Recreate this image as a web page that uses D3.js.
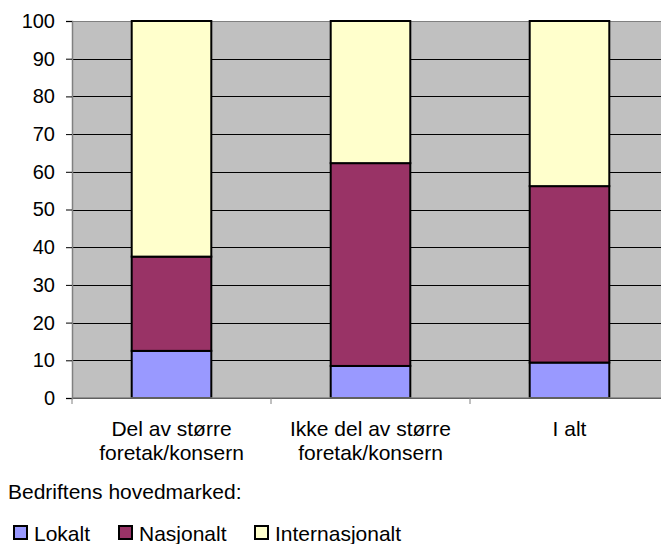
<!DOCTYPE html>
<html>
<head>
<meta charset="utf-8">
<script src="https://cdn.jsdelivr.net/npm/d3@7"></script>
<style>
  body { margin: 0; background: #fff; }
  svg { display: block; font-family: "Liberation Sans", Arial, sans-serif; }
</style>
</head>
<body>
<div id="chart"></div>
<script>
// Data
const categories = [["Del av større", "foretak/konsern"], ["Ikke del av større", "foretak/konsern"], ["I alt"]];
const seriesNames = ["Lokalt", "Nasjonalt", "Internasjonalt"];
const lokalt = [12.5, 8.5, 9.4];
const nasjonalt = [25.0, 53.8, 46.8];
const internasjonalt = [62.5, 37.7, 43.8];
const yTicks = [0, 10, 20, 30, 40, 50, 60, 70, 80, 90, 100];
const colors = ["#9999FF", "#993366", "#FFFFCC"];

const width = 661, height = 544;
const margin = {top: 21, left: 72};
const plotW = 597, plotH = 377;

const svg = d3.select("#chart").append("svg")
    .attr("width", width)
    .attr("height", height);

const g = svg.append("g")
    .attr("transform", `translate(${margin.left}, ${margin.top})`);

// Scales
const x = d3.scaleBand()
    .domain(d3.range(categories.length))
    .range([0, plotW])
    .paddingInner(0.6)
    .paddingOuter(0.3);
const y = d3.scaleLinear().domain([0, 100]).range([plotH, 0]);

// Plot background
g.append("rect")
    .attr("width", plotW)
    .attr("height", plotH)
    .attr("fill", "#C0C0C0");

// Gridlines
g.selectAll(".grid")
    .data(yTicks)
    .join("line")
    .attr("x1", 0)
    .attr("x2", plotW)
    .attr("y1", d => Math.round(y(d)) + 0.5)
    .attr("y2", d => Math.round(y(d)) + 0.5)
    .attr("stroke", d => d === 100 ? "#808080" : "#000")
    .attr("stroke-width", 1);

// Stacked bars
const rows = categories.map((c, i) => ({i, Lokalt: lokalt[i], Nasjonalt: nasjonalt[i], Internasjonalt: internasjonalt[i]}));
const stacked = d3.stack().keys(seriesNames)(rows);

g.selectAll(".series")
    .data(stacked)
    .join("g")
    .attr("fill", (d, i) => colors[i])
    .selectAll("rect")
    .data(d => d)
    .join("rect")
    .attr("x", d => x(d.data.i))
    .attr("y", d => y(d[1]))
    .attr("width", x.bandwidth())
    .attr("height", d => y(d[0]) - y(d[1]))
    .attr("stroke", "#000")
    .attr("stroke-width", 2);

// Y axis
const yAxis = g.append("g")
    .call(d3.axisLeft(y).tickValues(yTicks).tickSize(6).tickPadding(11));
yAxis.select(".domain").attr("stroke", "#808080").attr("stroke-width", 1.5);
yAxis.selectAll(".tick line").attr("stroke", "#000");
yAxis.selectAll("text")
    .attr("font-size", 20)
    .attr("fill", "#000")
    .attr("font-family", "Liberation Sans, Arial, sans-serif");

// X axis baseline and ticks at band boundaries
const step = x.step();
const xBase = g.append("g").attr("transform", `translate(0, ${plotH})`);
xBase.append("line")
    .attr("x1", 0).attr("x2", plotW)
    .attr("stroke", "#808080").attr("stroke-width", 1.5);
xBase.selectAll(".xtick")
    .data(d3.range(categories.length + 1))
    .join("line")
    .attr("x1", d => d * step).attr("x2", d => d * step)
    .attr("y1", 0).attr("y2", 6)
    .attr("stroke", "#808080");

// Category labels
g.selectAll(".cat")
    .data(categories)
    .join("text")
    .attr("x", (d, i) => x(i) + x.bandwidth() / 2)
    .attr("y", plotH + 38)
    .attr("text-anchor", "middle")
    .attr("font-size", 21)
    .selectAll("tspan")
    .data(d => d)
    .join("tspan")
    .attr("x", function() { return this.parentNode.getAttribute("x"); })
    .attr("dy", (d, i) => i === 0 ? 0 : 24)
    .text(d => d);

// Legend
svg.append("text")
    .attr("x", 8)
    .attr("y", 499)
    .attr("font-size", 21)
    .text("Bedriftens hovedmarked:");

const legendX = [14, 119, 255];
const legend = svg.selectAll(".legend")
    .data(seriesNames)
    .join("g")
    .attr("transform", (d, i) => `translate(${legendX[i]}, 526)`);
legend.append("rect")
    .attr("width", 13).attr("height", 13)
    .attr("fill", (d, i) => colors[i])
    .attr("stroke", "#000").attr("stroke-width", 2);
legend.append("text")
    .attr("x", 20)
    .attr("y", 15)
    .attr("font-size", 21)
    .text(d => d);
</script>
</body>
</html>
